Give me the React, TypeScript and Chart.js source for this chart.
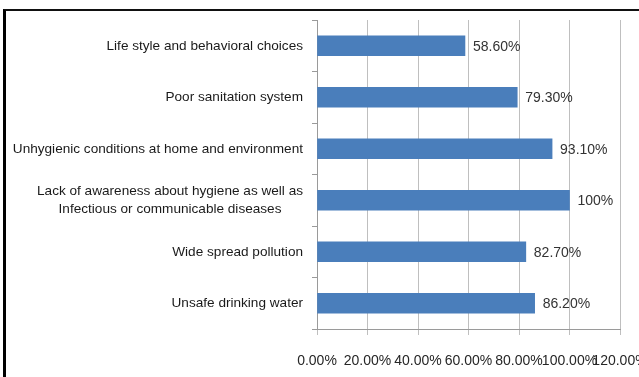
import React, { useEffect, useRef } from "react";
import { Chart, registerables } from "chart.js";

Chart.register(...registerables);

const categories: (string | string[])[] = [
  "Life style and behavioral choices",
  "Poor sanitation system",
  "Unhygienic conditions at home and environment",
  ["Lack of awareness about hygiene as well as", "Infectious or communicable diseases"],
  "Wide spread pollution",
  "Unsafe drinking water",
];
const values = [58.6, 79.3, 93.1, 100, 82.7, 86.2];
const valueLabels = ["58.60%", "79.30%", "93.10%", "100%", "82.70%", "86.20%"];
const tickLabels = ["0.00%", "20.00%", "40.00%", "60.00%", "80.00%", "100.00%", "120.00%"];

const FONT = "'Liberation Sans Narrow', 'Arial Narrow', sans-serif";

const labelPlugin = {
  id: "customLabels",
  afterDatasetsDraw(chart: any) {
    const ctx = chart.ctx;
    const meta = chart.getDatasetMeta(0);
    const yScale = chart.scales.y;
    ctx.save();
    ctx.font = `14px ${FONT}`;
    ctx.fillStyle = "#333333";
    ctx.textBaseline = "middle";
    ctx.textAlign = "left";
    meta.data.forEach((bar: any, i: number) => {
      ctx.fillText(valueLabels[i], bar.x + 8, bar.y + 1);
    });
    // category labels
    const rightX = yScale.right - 14;
    ctx.font = `13.6px ${FONT}`;
    ctx.fillStyle = "#1a1a1a";
    categories.forEach((c, i) => {
      const yc = yScale.getPixelForValue(i);
      if (Array.isArray(c)) {
        const w = Math.max(...c.map((s) => ctx.measureText(s).width));
        const cx = rightX - w / 2;
        ctx.textAlign = "center";
        const lh = 18;
        c.forEach((s, k) => {
          ctx.fillText(s, cx, yc + (k - (c.length - 1) / 2) * lh);
        });
      } else {
        ctx.textAlign = "right";
        ctx.fillText(c, rightX, yc);
      }
    });
    ctx.restore();
  },
};

function App() {
  const ref = useRef<HTMLCanvasElement>(null);
  useEffect(() => {
    if (!ref.current) return;
    const chart = new Chart(ref.current, {
      type: "bar",
      data: {
        labels: categories as any,
        datasets: [
          {
            data: values,
            backgroundColor: "#4a7ebb",
            borderColor: "#4a7ebb",
            borderWidth: 0,
            barThickness: 20,
          },
        ],
      },
      options: {
        indexAxis: "y",
        animation: false,
        responsive: false,
        maintainAspectRatio: false,
        layout: { padding: { top: 20, right: 19, left: 0, bottom: 0 } },
        plugins: {
          legend: { display: false },
          tooltip: { enabled: false },
          title: { display: false },
        },
        scales: {
          x: {
            min: 0,
            max: 120,
            afterFit(scale: any) {
              scale.height = 48;
              scale.paddingLeft = 0;
              scale.paddingRight = 0;
            },
            ticks: {
              stepSize: 20,
              padding: 18,
              color: "#262626",
              font: { family: FONT, size: 14 },
              maxRotation: 0,
              autoSkip: false,
              callback: (_v: any, i: number) => tickLabels[i],
            },
            grid: {
              color: "#bfbfbf",
              lineWidth: 1,
              tickLength: 6,
              drawTicks: true,
            },
            border: { display: true, color: "#9a9a9a", width: 1 },
          },
          y: {
            afterFit(scale: any) {
              scale.width = 317;
            },
            ticks: {
              color: "rgba(0,0,0,0)",
              font: { family: FONT, size: 14 },
            },
            grid: {
              drawOnChartArea: false,
              color: "#9a9a9a",
              tickLength: 5,
              offset: true,
            },
            border: { display: true, color: "#9a9a9a", width: 1 },
          },
        },
      },
      plugins: [labelPlugin],
    });
    return () => chart.destroy();
  }, []);
  return (
    <div
      style={{
        position: "fixed",
        left: 0,
        top: 0,
        width: 639,
        height: 377,
        overflow: "hidden",
        background: "#fff",
      }}
    >
      <canvas
        ref={ref}
        width={639}
        height={377}
        style={{ position: "absolute", left: 0, top: 0, width: 639, height: 377 }}
      />
      <div
        style={{
          position: "absolute",
          left: 3,
          top: 9,
          width: 800,
          height: 600,
          borderLeft: "3px solid #000",
          borderTop: "2px solid #111",
          pointerEvents: "none",
        }}
      />
    </div>
  );
}

export default App;
